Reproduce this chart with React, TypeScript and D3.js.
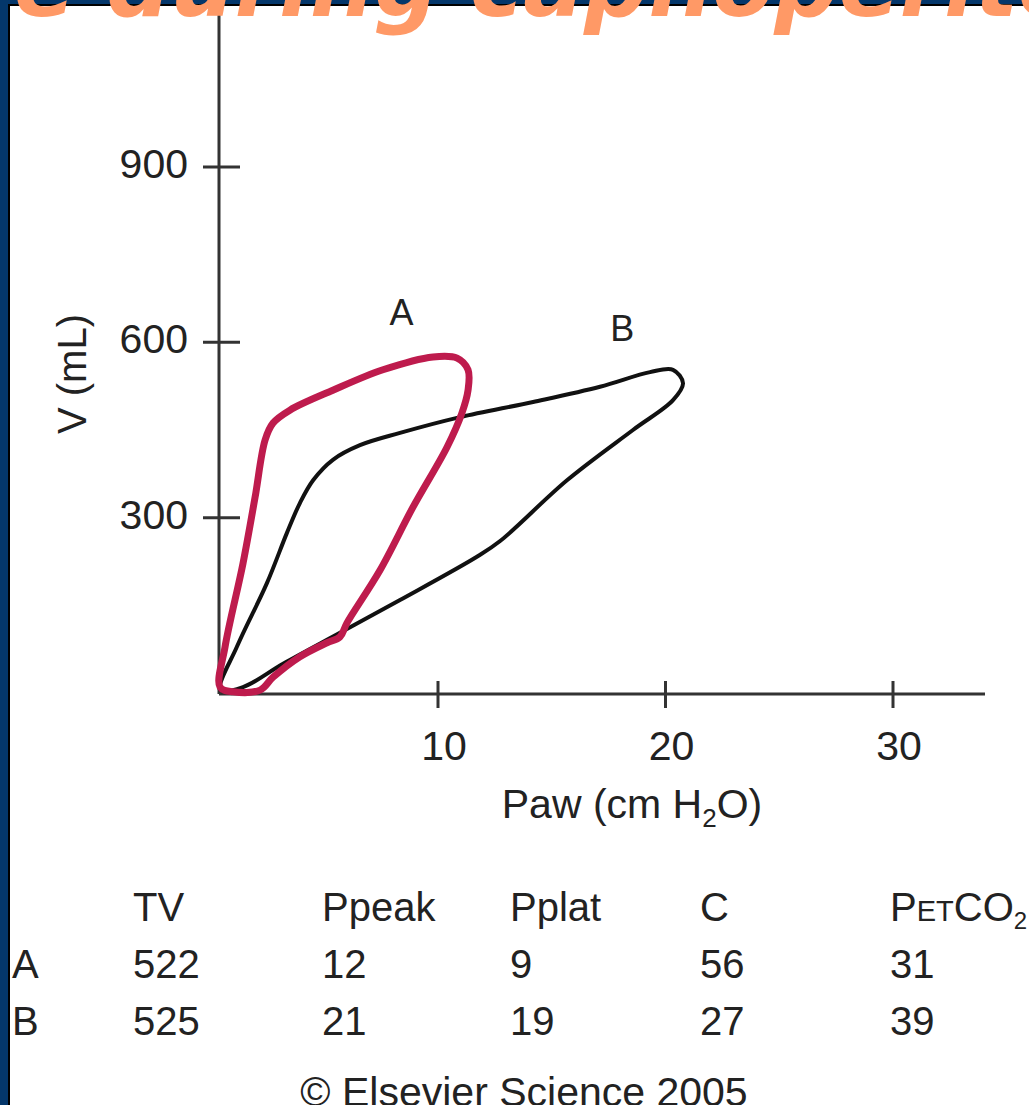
import React from "react";
import * as d3 from "d3";

// ---------- data ----------
const xTicks = [10, 20, 30];
const yTicks = [300, 600, 900];

// Loop A (red): airway pressure (cm H2O) and volume (mL), traced around the loop
const loopAPressure = [0.42, 0.64, 1.43, 1.96, 2.4, 2.75, 3.49, 5.38, 7.58, 9.78, 10.84, 11.32, 11.32, 11.05, 10.4, 8.9, 7.45, 6.0, 5.69, 5.12, 3.93, 2.75, 2.18, 0.99];
const loopAVolume = [10, 79, 222, 335, 433, 462, 484, 518, 553, 575, 573, 553, 518, 479, 421, 318, 210, 120, 96, 86, 62, 27, 5, 2];

// Loop B (black)
const loopBPressure = [0.43, 1.16, 2.48, 3.36, 3.93, 4.51, 5.38, 6.57, 8.33, 10.97, 14.18, 17.12, 19.32, 20.33, 20.77, 20.33, 18.57, 15.67, 12.73, 11.71, 8.33, 5.69, 3.19, 1.43];
const loopBVolume = [5, 79, 188, 274, 325, 364, 399, 424, 445, 472, 498, 524, 549, 553, 530, 501, 450, 364, 260, 233, 159, 103, 50, 10];

const loopLabels = ["A", "B"];
const loopLabelPressure = [8.4, 18.1];
const loopLabelVolume = [630, 603];

// Table
const tableHeaders = ["TV", "Ppeak", "Pplat", "C", "PETCO2"];
const rowLabels = ["A", "B"];
const tvValues = [522, 525];
const ppeakValues = [12, 21];
const pplatValues = [9, 19];
const complianceValues = [56, 27];
const petco2Values = [31, 39];

const W = 1029;
const H = 1105;
const NAVY = "#04376B";
const RED = "#BE1B4D";
const AXIS = "#333";
const TEXT = "#222";
const FONT = "'Liberation Sans', Arial, sans-serif";

export default function App() {
  const x = d3.scaleLinear().domain([0, 30]).range([210.5, 893]);
  const y = d3.scaleLinear().domain([0, 900]).range([693, 167]);
  const axisX = 219;
  const axisY = 694;

  const line = d3
    .line<[number, number]>()
    .x((d) => x(d[0]))
    .y((d) => y(d[1]))
    .curve(d3.curveCatmullRomClosed.alpha(0.5));

  const ptsA = loopAPressure.map((p, i) => [p, loopAVolume[i]] as [number, number]);
  const ptsB = loopBPressure.map((p, i) => [p, loopBVolume[i]] as [number, number]);

  const colX = [133, 322, 510, 700, 890];
  const rowY = [978, 1035];
  const headerY = 921;
  const columns = [tvValues, ppeakValues, pplatValues, complianceValues, petco2Values];

  return (
    <svg
      width={W}
      height={H}
      style={{ position: "absolute", left: 0, top: 0, background: "#fff" }}
      fontFamily={FONT}
    >
      <rect x={0} y={0} width={W} height={H} fill="#fff" />
      {/* frame */}
      <rect x={0} y={0} width={W} height={5} fill={NAVY} />
      <rect x={0} y={0} width={8} height={H} fill={NAVY} />
      <line x1={8} x2={W} y1={5} y2={5} stroke="#000" strokeWidth={2} />
      <line x1={9} x2={9} y1={5} y2={H} stroke="#000" strokeWidth={2} />

      {/* axes */}
      <line x1={axisX} x2={axisX} y1={6} y2={axisY} stroke={AXIS} strokeWidth={3} />
      <line x1={axisX} x2={985} y1={axisY} y2={axisY} stroke={AXIS} strokeWidth={3} />

      {/* title (clipped at top) */}
      <text
        x={14}
        y={16}
        fill="#FF9966"
        fontFamily="'DejaVu Sans', Verdana, sans-serif"
        fontWeight="bold"
        fontStyle="italic"
        fontSize={90}
      >
        e during capnoperitoneum
      </text>

      {yTicks.map((t) => (
        <g key={"yt" + t}>
          <line x1={203} x2={240} y1={y(t)} y2={y(t)} stroke={AXIS} strokeWidth={3} />
          <text x={188} y={y(t) - 3} textAnchor="end" dominantBaseline="central" fontSize={41} fill={TEXT}>
            {t}
          </text>
        </g>
      ))}
      {xTicks.map((t) => (
        <g key={"xt" + t}>
          <line x1={x(t)} x2={x(t)} y1={681} y2={708} stroke={AXIS} strokeWidth={3} />
          <text x={x(t) + 6} y={760} textAnchor="middle" fontSize={41} fill={TEXT}>
            {t}
          </text>
        </g>
      ))}
      <text x={632} y={818} textAnchor="middle" fontSize={41} fill={TEXT}>
        Paw (cm H
        <tspan fontSize={26} dy={9}>2</tspan>
        <tspan dy={-9}>O)</tspan>
      </text>
      <text
        transform="translate(86,374) rotate(-90)"
        textAnchor="middle"
        fontSize={40}
        fill={TEXT}
      >
        V (mL)
      </text>

      {/* loops */}
      <path d={line(ptsB) || ""} fill="none" stroke="#111" strokeWidth={4} strokeLinejoin="round" />
      <path d={line(ptsA) || ""} fill="none" stroke={RED} strokeWidth={7} strokeLinejoin="round" />
      {loopLabels.map((l, i) => (
        <text
          key={l}
          x={x(loopLabelPressure[i])}
          y={y(loopLabelVolume[i])}
          textAnchor="middle"
          fontSize={36}
          fill={TEXT}
        >
          {l}
        </text>
      ))}

      {/* table */}
      {tableHeaders.map((h, i) =>
        h === "PETCO2" ? (
          <text key={h} x={colX[i]} y={headerY} fontSize={40} fill={TEXT}>
            P<tspan fontSize={29}>ET</tspan>CO
            <tspan fontSize={24} dy={8}>2</tspan>
          </text>
        ) : (
          <text key={h} x={colX[i]} y={headerY} fontSize={40} fill={TEXT}>
            {h}
          </text>
        )
      )}
      {rowLabels.map((r, ri) => (
        <g key={r}>
          <text x={12} y={rowY[ri]} fontSize={40} fill={TEXT}>
            {r}
          </text>
          {columns.map((col, ci) => (
            <text key={ci} x={colX[ci]} y={rowY[ri]} fontSize={40} fill={TEXT}>
              {col[ri]}
            </text>
          ))}
        </g>
      ))}
      <text x={524} y={1106} textAnchor="middle" fontSize={41} fill={TEXT}>
        © Elsevier Science 2005
      </text>
    </svg>
  );
}
